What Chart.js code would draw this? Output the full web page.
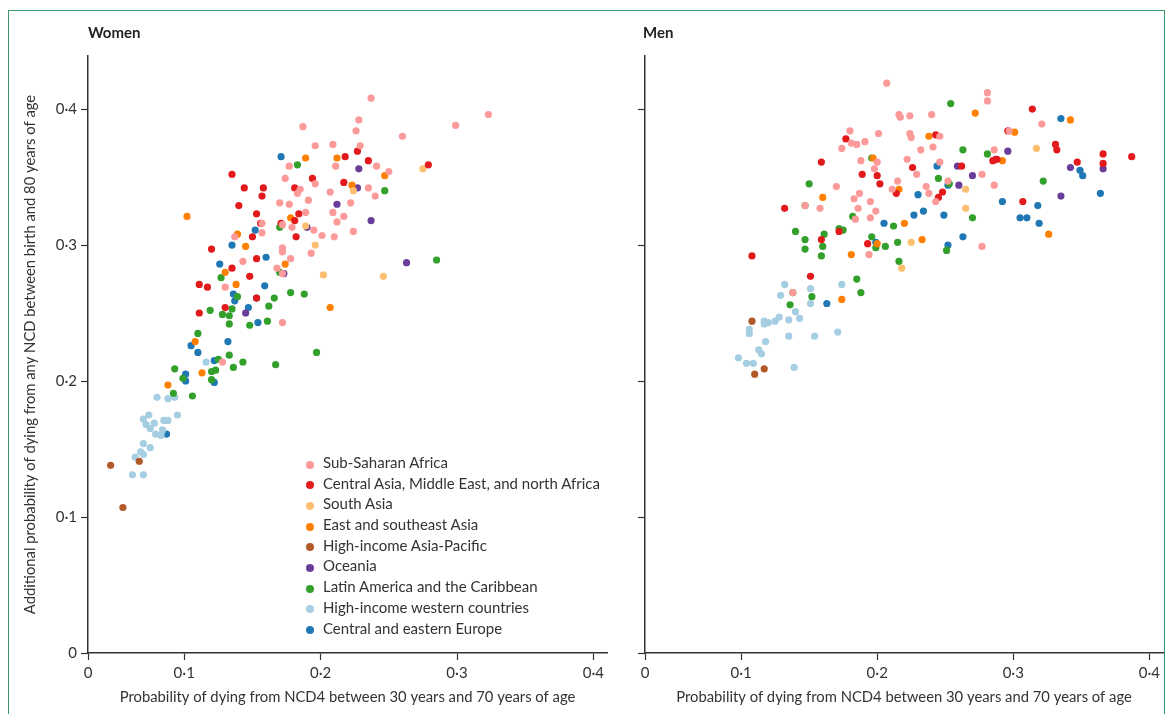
<!DOCTYPE html>
<html>
<head>
<meta charset="utf-8">
<script src="https://cdn.jsdelivr.net/npm/chart.js@4.4.1/dist/chart.umd.min.js"></script>
<style>
  body { margin: 0; background: #fff; font-family: Lato, "Noto Sans", sans-serif; color: #333; }
  #wrap { position: relative; width: 1169px; height: 714px; overflow: hidden; }
  #frame { position: absolute; left: 8px; top: 10px; width: 1157px; height: 740px; border: 1.5px solid #3d9a6c; box-sizing: border-box; }
  canvas { position: absolute; top: 0; }
  .panel-title { position: absolute; top: 23px; font-weight: bold; font-size: 15px; color: #222; }
  #legend { position: absolute; left: 304px; top: 452px; font-size: 15px; color: #333; }
  #legend div { height: 20.7px; line-height: 20.7px; white-space: nowrap; }
  #legend span { display: inline-block; width: 8px; height: 8px; border-radius: 50%; margin: 0 9px 0 2px; vertical-align: -0.5px; }
</style>
</head>
<body>
<div id="wrap">
  <div id="frame"></div>
  <canvas id="women" width="615" height="714" style="left:0"></canvas>
  <canvas id="men" width="554" height="714" style="left:615px"></canvas>
  <div class="panel-title" style="left:88px">Women</div>
  <div class="panel-title" style="left:643px">Men</div>
  <div id="legend"></div>
</div>
<script>
// regions (legend order) and colours
const regions = ['Sub-Saharan Africa', 'Central Asia, Middle East, and north Africa', 'South Asia',
  'East and southeast Asia', 'High-income Asia-Pacific', 'Oceania', 'Latin America and the Caribbean',
  'High-income western countries', 'Central and eastern Europe'];
const colors = ['#fb9a99', '#e31a1c', '#fdbf6f', '#ff7f00', '#b15928', '#6a3d9a', '#33a02c', '#a6cee3', '#1f78b4'];

// axis ticks: the "0" sits at the start of the x axis
const xMin = 0.0294, xMax = 0.41;
const xTicks = [xMin, 0.1, 0.2, 0.3, 0.4];
const yTicks = [0, 0.1, 0.2, 0.3, 0.4];
const tickLabels = ['0', '0·1', '0·2', '0·3', '0·4'];

// Women: [NCD4 30-70, additional NCD birth-80]
const women_ssa = [[0.237,0.408],[0.228,0.392],[0.226,0.384],[0.187,0.387],[0.260,0.380],[0.196,0.373],[0.209,0.374],[0.229,0.373],[0.241,0.358],[0.177,0.358],[0.211,0.358],[0.250,0.354],[0.174,0.349],[0.196,0.345],[0.235,0.342],[0.240,0.336],[0.185,0.341],[0.183,0.338],[0.207,0.339],[0.191,0.333],[0.170,0.331],[0.177,0.330],[0.222,0.331],[0.189,0.324],[0.209,0.324],[0.212,0.317],[0.217,0.321],[0.172,0.315],[0.179,0.313],[0.157,0.316],[0.157,0.309],[0.195,0.311],[0.201,0.307],[0.210,0.306],[0.224,0.310],[0.137,0.306],[0.193,0.294],[0.172,0.298],[0.172,0.295],[0.178,0.290],[0.143,0.288],[0.168,0.283],[0.172,0.279],[0.130,0.269],[0.172,0.243],[0.128,0.214],[0.323,0.396],[0.299,0.388]];
const women_camena = [[0.218,0.365],[0.227,0.369],[0.235,0.362],[0.135,0.352],[0.194,0.349],[0.217,0.346],[0.144,0.342],[0.158,0.342],[0.157,0.336],[0.181,0.342],[0.140,0.329],[0.153,0.323],[0.181,0.318],[0.184,0.323],[0.171,0.316],[0.156,0.316],[0.182,0.306],[0.150,0.306],[0.120,0.297],[0.153,0.290],[0.135,0.283],[0.148,0.277],[0.111,0.271],[0.117,0.269],[0.153,0.261],[0.130,0.254],[0.111,0.250],[0.279,0.359]];
const women_sa = [[0.224,0.340],[0.189,0.314],[0.196,0.300],[0.202,0.278],[0.246,0.277],[0.275,0.356]];
const women_esea = [[0.189,0.364],[0.212,0.364],[0.247,0.351],[0.223,0.344],[0.178,0.320],[0.139,0.308],[0.145,0.299],[0.174,0.286],[0.130,0.280],[0.138,0.271],[0.207,0.254],[0.102,0.321],[0.108,0.229],[0.113,0.206],[0.088,0.197]];
const women_hiap = [[0.067,0.141],[0.046,0.138],[0.055,0.107]];
const women_oce = [[0.228,0.356],[0.227,0.342],[0.212,0.330],[0.237,0.318],[0.190,0.313],[0.173,0.279],[0.263,0.287],[0.145,0.250]];
const women_lac = [[0.183,0.359],[0.247,0.340],[0.170,0.313],[0.170,0.280],[0.127,0.276],[0.139,0.262],[0.166,0.261],[0.178,0.265],[0.188,0.264],[0.135,0.253],[0.162,0.255],[0.119,0.252],[0.128,0.249],[0.133,0.248],[0.133,0.242],[0.148,0.241],[0.161,0.244],[0.110,0.235],[0.133,0.219],[0.125,0.216],[0.143,0.214],[0.167,0.212],[0.197,0.221],[0.093,0.209],[0.099,0.202],[0.120,0.207],[0.123,0.208],[0.136,0.210],[0.120,0.201],[0.092,0.191],[0.106,0.189],[0.285,0.289]];
const women_hiw = [[0.116,0.214],[0.080,0.188],[0.088,0.187],[0.093,0.188],[0.074,0.175],[0.070,0.172],[0.072,0.168],[0.078,0.169],[0.075,0.165],[0.085,0.171],[0.088,0.171],[0.095,0.175],[0.079,0.161],[0.083,0.160],[0.084,0.164],[0.070,0.154],[0.075,0.151],[0.068,0.148],[0.070,0.146],[0.064,0.144],[0.062,0.131],[0.070,0.131]];
const women_cee = [[0.171,0.365],[0.152,0.311],[0.135,0.300],[0.160,0.291],[0.126,0.286],[0.159,0.270],[0.136,0.264],[0.137,0.259],[0.153,0.261],[0.147,0.254],[0.154,0.243],[0.105,0.226],[0.110,0.221],[0.132,0.229],[0.122,0.215],[0.101,0.205],[0.101,0.200],[0.122,0.199],[0.087,0.161]];

// Men
const men_ssa = [[0.207,0.419],[0.216,0.396],[0.217,0.394],[0.224,0.395],[0.180,0.384],[0.174,0.371],[0.181,0.375],[0.185,0.374],[0.191,0.376],[0.201,0.382],[0.188,0.362],[0.200,0.361],[0.198,0.356],[0.222,0.363],[0.170,0.343],[0.215,0.347],[0.211,0.341],[0.187,0.338],[0.183,0.334],[0.147,0.329],[0.158,0.327],[0.186,0.327],[0.195,0.332],[0.199,0.325],[0.195,0.320],[0.184,0.319],[0.194,0.293],[0.138,0.265],[0.281,0.412],[0.281,0.406],[0.240,0.396],[0.321,0.389],[0.224,0.382],[0.225,0.379],[0.246,0.380],[0.241,0.372],[0.232,0.370],[0.297,0.384],[0.286,0.370],[0.229,0.352],[0.246,0.361],[0.277,0.352],[0.236,0.343],[0.238,0.338],[0.252,0.347],[0.286,0.344],[0.243,0.332],[0.277,0.299]];
const men_camena = [[0.177,0.378],[0.159,0.361],[0.189,0.352],[0.200,0.351],[0.202,0.345],[0.214,0.338],[0.132,0.327],[0.172,0.310],[0.159,0.304],[0.193,0.301],[0.108,0.292],[0.151,0.277],[0.314,0.400],[0.243,0.381],[0.296,0.384],[0.331,0.374],[0.332,0.370],[0.366,0.367],[0.387,0.365],[0.226,0.357],[0.262,0.358],[0.285,0.362],[0.288,0.363],[0.347,0.361],[0.366,0.360],[0.248,0.339],[0.245,0.335],[0.307,0.332]];
const men_sa = [[0.317,0.371],[0.265,0.341],[0.265,0.327],[0.225,0.302],[0.218,0.283]];
const men_esea = [[0.197,0.364],[0.216,0.341],[0.160,0.335],[0.220,0.316],[0.200,0.301],[0.181,0.293],[0.174,0.260],[0.272,0.397],[0.342,0.392],[0.238,0.380],[0.301,0.383],[0.292,0.362],[0.326,0.308],[0.233,0.304]];
const men_hiap = [[0.108,0.244],[0.117,0.209],[0.110,0.205]];
const men_oce = [[0.296,0.369],[0.259,0.358],[0.270,0.351],[0.287,0.363],[0.342,0.357],[0.366,0.356],[0.260,0.344],[0.335,0.336]];
const men_lac = [[0.196,0.364],[0.150,0.345],[0.147,0.329],[0.182,0.321],[0.212,0.314],[0.140,0.310],[0.161,0.308],[0.172,0.312],[0.175,0.311],[0.147,0.304],[0.160,0.299],[0.147,0.297],[0.159,0.292],[0.196,0.306],[0.199,0.298],[0.206,0.299],[0.215,0.302],[0.216,0.288],[0.185,0.275],[0.188,0.265],[0.138,0.265],[0.152,0.262],[0.136,0.256],[0.254,0.404],[0.263,0.370],[0.281,0.367],[0.322,0.347],[0.245,0.349],[0.253,0.345],[0.270,0.320],[0.251,0.296]];
const men_hiw = [[0.132,0.271],[0.129,0.263],[0.151,0.268],[0.174,0.271],[0.151,0.257],[0.140,0.251],[0.128,0.247],[0.135,0.245],[0.143,0.246],[0.117,0.244],[0.120,0.243],[0.125,0.244],[0.117,0.242],[0.106,0.238],[0.106,0.235],[0.135,0.233],[0.154,0.233],[0.171,0.236],[0.118,0.229],[0.113,0.223],[0.115,0.220],[0.098,0.217],[0.104,0.213],[0.109,0.213],[0.139,0.210]];
const men_cee = [[0.205,0.316],[0.199,0.302],[0.163,0.257],[0.335,0.393],[0.244,0.358],[0.349,0.355],[0.351,0.351],[0.252,0.344],[0.230,0.337],[0.227,0.322],[0.234,0.325],[0.249,0.322],[0.292,0.332],[0.318,0.329],[0.364,0.338],[0.305,0.320],[0.310,0.320],[0.319,0.316],[0.263,0.306],[0.252,0.300]];

const womenSeries = [women_ssa, women_camena, women_sa, women_esea, women_hiap, women_oce, women_lac, women_hiw, women_cee];
const menSeries = [men_ssa, men_camena, men_sa, men_esea, men_hiap, men_oce, men_lac, men_hiw, men_cee];

const yTitle = 'Additional probability of dying from any NCD between birth and 80 years of age';
const xTitle = 'Probability of dying from NCD4 between 30 years and 70 years of age';

Chart.defaults.font.family = 'Lato, "Noto Sans", sans-serif';
Chart.defaults.font.size = 15;
Chart.defaults.color = '#333';

function makePanel(id, series, showY, yWidth, padRight) {
    const datasets = series.map((pts, i) => ({
        label: regions[i],
        data: pts.map(p => ({ x: p[0], y: p[1] })),
        backgroundColor: colors[i],
        borderWidth: 0,
        pointRadius: 3.6
    }));
    const axisGrid = { drawOnChartArea: false, drawTicks: true, tickLength: 7, tickColor: '#333', tickWidth: 1.2 };
    const axisBorder = { display: true, color: '#333', width: 1.5 };

    return new Chart(document.getElementById(id), {
        type: 'scatter',
        data: { datasets },
        options: {
            responsive: false,
            animation: false,
            layout: { padding: { top: 56, right: padRight, left: 0, bottom: 0 } },
            plugins: { legend: { display: false }, tooltip: { enabled: false } },
            scales: {
                x: {
                    type: 'linear', min: xMin, max: xMax,
                    afterBuildTicks: s => { s.ticks = xTicks.map(v => ({ value: v })); },
                    afterFit: s => { s.height = 61; },
                    ticks: { padding: 4, callback: (v, i) => tickLabels[i] },
                    grid: axisGrid, border: axisBorder,
                    title: { display: true, text: xTitle, font: { size: 14.8 }, padding: { top: 0, bottom: 8 } }
                },
                y: {
                    type: 'linear', min: 0, max: 0.439,
                    afterBuildTicks: s => { s.ticks = yTicks.map(v => ({ value: v })); },
                    afterFit: s => { s.width = yWidth; },
                    ticks: { padding: 4, callback: (v, i) => showY ? tickLabels[i] : '' },
                    grid: axisGrid, border: axisBorder,
                    title: { display: showY, text: yTitle, font: { size: 14.8 }, padding: { top: 21, bottom: 0 } }
                }
            }
        }
    });
}

makePanel('women', womenSeries, true, 88, 8);
makePanel('men', menSeries, false, 30, 6);

// legend inside the women panel
document.getElementById('legend').innerHTML = regions.map((r, i) =>
    `<div><span style="background:${colors[i]}"></span>${r}</div>`).join('');
</script>
</body>
</html>
